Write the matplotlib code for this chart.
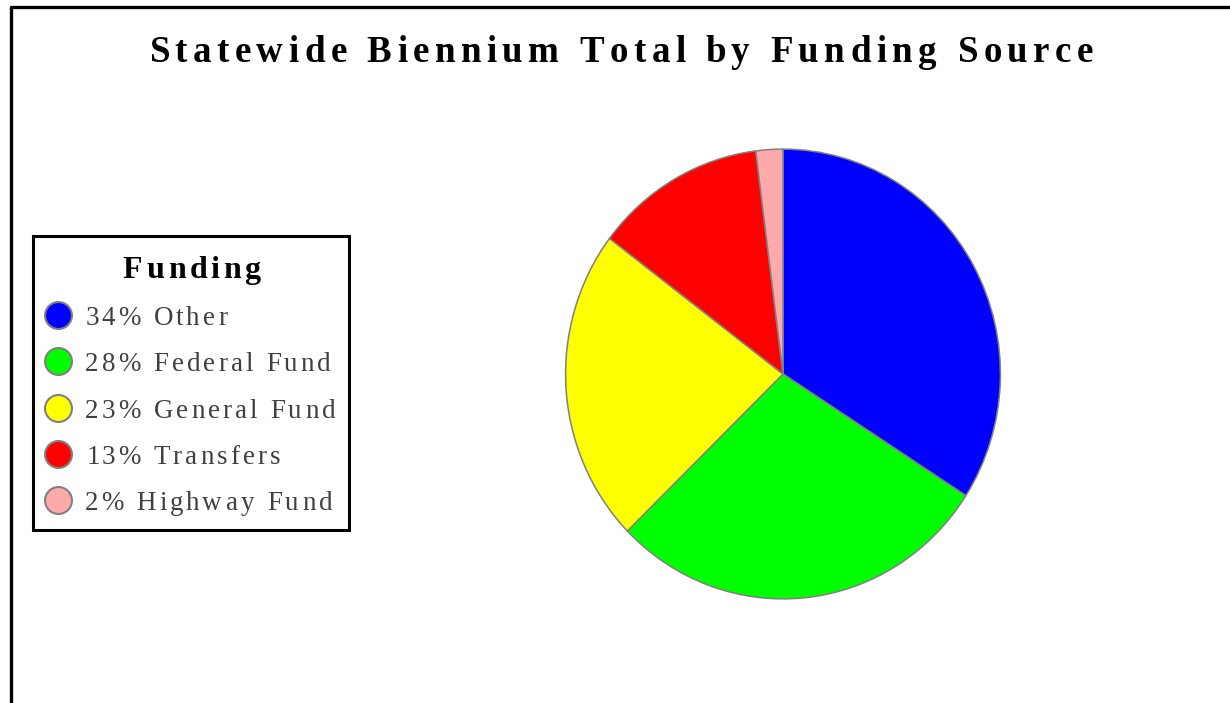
import matplotlib
matplotlib.use("Agg")
import matplotlib.pyplot as plt
from matplotlib.lines import Line2D
from matplotlib.patches import Rectangle
from matplotlib.font_manager import FontProperties, findfont
from matplotlib.ft2font import FT2Font

### Data
sources = ['Other', 'Federal Fund', 'General Fund', 'Transfers', 'Highway Fund']
shares = [34.1, 28.6, 22.6, 12.7, 2.0]
pct_labels = ['34%', '28%', '23%', '13%', '2%']  # as printed in legend
colors = ['#0000ff', '#00ff00', '#ffff00', '#ff0000', '#ffaaaa']

W, H = 1230, 703
fig = plt.figure(figsize=(W / 100, H / 100), dpi=100)
fig.patch.set_facecolor('white')


def fx(px):
    return px / W


def fy(py):
    return (H - py) / H


def spaced_text(x, baseline, s, size_px, track, weight='normal', color='black', center=False):
    """Draw text with extra letter spacing (pixels), one character at a time."""
    fp = FontProperties(family='Liberation Serif', weight=weight)
    font = FT2Font(findfont(fp))
    font.set_size(size_px, 72)
    pens, bears = [], []
    pen = 0.0
    for c in s:
        g = font.load_char(ord(c))
        pens.append(pen)
        bears.append(g.horiBearingX / 64)
        pen += g.linearHoriAdvance / 65536 + track
    total = pen - track
    if center:
        x = x - total / 2
    for c, p, b in zip(s, pens, bears):
        if c == ' ':
            continue
        fig.text(fx(x + p + b), fy(baseline), c, ha='left', va='baseline',
                 fontproperties=fp, fontsize=size_px * 0.72, color=color)


### Outer frame (top and left edges visible)
fig.add_artist(Line2D([fx(11), fx(11), fx(W)], [fy(H), fy(7), fy(7)],
                      color='black', lw=2.4, transform=fig.transFigure))

### Title
spaced_text(620, 62, 'Statewide Biennium Total by Funding Source', 37, 5.45,
            weight='bold', center=True)

### Pie
rx, ry, cx, cy = 218.5, 226, 783, 374
ax = fig.add_axes([fx(cx - rx), fy(cy + ry), 2 * rx / W, 2 * ry / H])
ax.pie(shares, colors=colors, startangle=90, counterclock=False,
       wedgeprops=dict(edgecolor='#808080', linewidth=1.1))
ax.set_aspect('auto')
ax.set_xlim(-1.005, 1.005)
ax.set_ylim(-1.005, 1.005)
ax.axis('off')

### Legend
fig.add_artist(Rectangle((fx(33), fy(530)), fx(349) - fx(33), fy(236) - fy(530),
                         fill=False, edgecolor='black', lw=2.2,
                         transform=fig.transFigure))
spaced_text(191, 278, 'Funding', 32, 3.6, weight='bold', center=True)
for i, (lab, pct, col) in enumerate(zip(sources, pct_labels, colors)):
    yc = 315 + i * 46.3
    fig.add_artist(Line2D([fx(58)], [fy(yc)], marker='o', ms=19.4, mfc=col,
                          mec='#808080', mew=1.5, ls='none',
                          transform=fig.transFigure))
    spaced_text(84, yc + 10, pct + ' ' + lab, 27, 3.1, color='#404040')

plt.savefig('out.png', dpi=100)
